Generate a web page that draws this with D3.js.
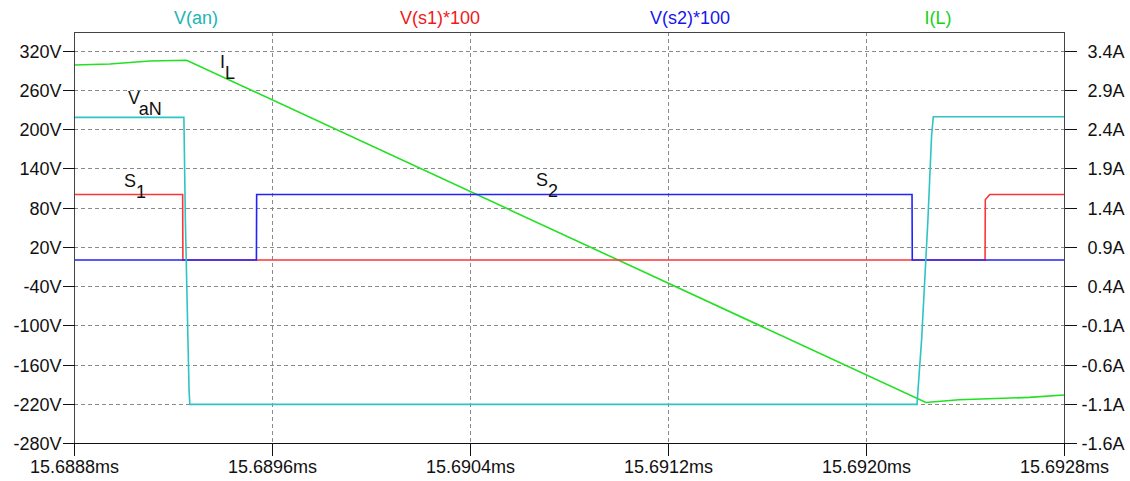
<!DOCTYPE html>
<html>
<head>
<meta charset="utf-8">
<script src="https://cdn.jsdelivr.net/npm/d3@7"></script>
<style>
  html, body { margin: 0; padding: 0; background: #fff; }
  svg { display: block; font-family: "Liberation Sans", Arial, sans-serif; }
</style>
</head>
<body>
<svg id="chart" width="1130" height="481"></svg>
<script>
// Time axis (ms) and tick labels
const timeTicks = [15.6888, 15.6896, 15.6904, 15.6912, 15.6920, 15.6928];
const voltTicks = [-280, -220, -160, -100, -40, 20, 80, 140, 200, 260, 320];
const ampTicks = [-1.6, -1.1, -0.6, -0.1, 0.4, 0.9, 1.4, 1.9, 2.4, 2.9, 3.4];

// V(an): inverter leg voltage (V)
const vanTime = [15.6888, 15.689244, 15.689250, 15.689262, 15.689265, 15.689268,
                 15.6904, 15.692206, 15.692225, 15.692250, 15.692265, 15.692272, 15.6928];
const vanVal  = [218, 218, 60, -150, -200, -221, -221, -221, -120, 60, 190, 219, 219];

// V(s1)*100: gate signal S1 (V)
const s1Time = [15.6888, 15.689239, 15.689240, 15.692481, 15.692482, 15.692500, 15.6928];
const s1Val  = [100, 100, 0, 0, 92, 100, 100];

// V(s2)*100: gate signal S2 (V)
const s2Time = [15.6888, 15.689537, 15.689538, 15.692186, 15.692187, 15.6928];
const s2Val  = [0, 0, 100, 100, 0, 0];

// I(L): inductor current (A)
const ilTime = [15.6888, 15.688945, 15.689106, 15.689255, 15.692242, 15.692376, 15.692659, 15.6928];
const ilVal  = [3.218, 3.231, 3.269, 3.278, -1.083, -1.049, -1.019, -0.989];

const series = [
  { name: "V(an)",      t: vanTime, v: vanVal, axis: "left",  color: "#2ec4c4", text: "#20b4b4", labelX: 196 },
  { name: "V(s1)*100",  t: s1Time,  v: s1Val,  axis: "left",  color: "#ff3535", text: "#f01818", labelX: 440 },
  { name: "V(s2)*100",  t: s2Time,  v: s2Val,  axis: "left",  color: "#2222ff", text: "#1515f0", labelX: 690 },
  { name: "I(L)",       t: ilTime,  v: ilVal,  axis: "right", color: "#22e022", text: "#18d018", labelX: 938 }
];

const svg = d3.select("#chart");
const plot = { left: 74, right: 1064, top: 32, bottom: 443 };

const x = d3.scaleLinear().domain([15.6888, 15.6928]).range([plot.left, plot.right]);
const yL = d3.scaleLinear().domain([-280, 320]).range([plot.bottom, 50.7]);
const yR = d3.scaleLinear().domain([-1.6, 3.4]).range([plot.bottom, 50.7]);

// Grid
const grid = svg.append("g").attr("stroke", "#8a8a8a").attr("stroke-width", 1)
  .attr("stroke-dasharray", "4,3").attr("shape-rendering", "crispEdges");
timeTicks.slice(1, -1).forEach(t => {
  grid.append("line").attr("x1", Math.round(x(t)) + 0.5).attr("x2", Math.round(x(t)) + 0.5)
    .attr("y1", plot.top).attr("y2", plot.bottom);
});
voltTicks.slice(1).forEach(v => {
  grid.append("line").attr("y1", Math.round(yL(v)) + 0.5).attr("y2", Math.round(yL(v)) + 0.5)
    .attr("x1", plot.left).attr("x2", plot.right);
});

// Traces
const clip = svg.append("defs").append("clipPath").attr("id", "plotClip");
clip.append("rect").attr("x", plot.left).attr("y", plot.top)
  .attr("width", plot.right - plot.left).attr("height", plot.bottom - plot.top);

const traces = svg.append("g").attr("clip-path", "url(#plotClip)");
// draw order: current, S1, S2, V(an) on top
[series[3], series[1], series[2], series[0]].forEach(s => {
  const y = s.axis === "left" ? yL : yR;
  const pts = s.t.map((t, i) => [t, s.v[i]]);
  traces.append("path")
    .datum(pts)
    .attr("fill", "none")
    .attr("stroke", s.color)
    .attr("stroke-width", 1.6)
    .attr("d", d3.line().x(d => x(d[0])).y(d => y(d[1])));
});

// Frame
const frame = svg.append("g").attr("shape-rendering", "crispEdges");
frame.append("rect").attr("x", plot.left + 0.5).attr("y", plot.top + 0.5)
  .attr("width", plot.right - plot.left).attr("height", plot.bottom - plot.top)
  .attr("fill", "none").attr("stroke", "#444").attr("stroke-width", 1);
frame.append("line").attr("x1", plot.left).attr("x2", plot.right + 1)
  .attr("y1", plot.bottom + 0.5).attr("y2", plot.bottom + 0.5).attr("stroke", "#111");

// Axes
const fmtV = d => d + "V";
const fmtA = d => d.toFixed(1) + "A";
const fmtT = d => d.toFixed(4) + "ms";

const axL = svg.append("g").attr("transform", `translate(${plot.left + 0.5},0)`)
  .call(d3.axisLeft(yL).tickValues(voltTicks).tickFormat(fmtV).tickSize(12).tickPadding(1));
const axR = svg.append("g").attr("transform", `translate(${plot.right + 0.5},0)`)
  .call(d3.axisRight(yR).tickValues(ampTicks).tickFormat(fmtA).tickSize(12).tickPadding(1));
const axB = svg.append("g").attr("transform", `translate(0,${plot.bottom + 0.5})`)
  .call(d3.axisBottom(x).tickValues(timeTicks).tickFormat(fmtT).tickSize(12).tickPadding(3));

[axL, axR, axB].forEach(a => {
  a.select(".domain").remove();
  a.selectAll(".tick line").attr("stroke", "#111").attr("shape-rendering", "crispEdges");
  a.selectAll(".tick text").attr("fill", "#111").style("font-size", "18px")
    .style("font-family", "'Liberation Sans', Arial, sans-serif");
});
axL.selectAll(".tick text").attr("dy", "0.36em");
axR.selectAll(".tick text").attr("dy", "0.36em").attr("text-anchor", "end").attr("x", 60);
axB.selectAll(".tick text").attr("dy", "0.78em");

// Trace names along the top
svg.append("g").selectAll("text").data(series).join("text")
  .attr("x", d => d.labelX).attr("y", 24)
  .attr("text-anchor", "middle").attr("fill", d => d.text)
  .style("font-size", "18px").text(d => d.name);

// Trace annotations with subscripts
function annot(xp, yp, main, sub) {
  const t = svg.append("text").attr("x", xp).attr("y", yp).attr("fill", "#111")
    .style("font-size", "18px");
  t.append("tspan").text(main);
  t.append("tspan").attr("dy", 11).text(sub);
}
annot(128, 104, "V", "aN");
annot(220, 68, "I", "L");
annot(124, 187, "S", "1");
annot(536, 186, "S", "2");
</script>
</body>
</html>
